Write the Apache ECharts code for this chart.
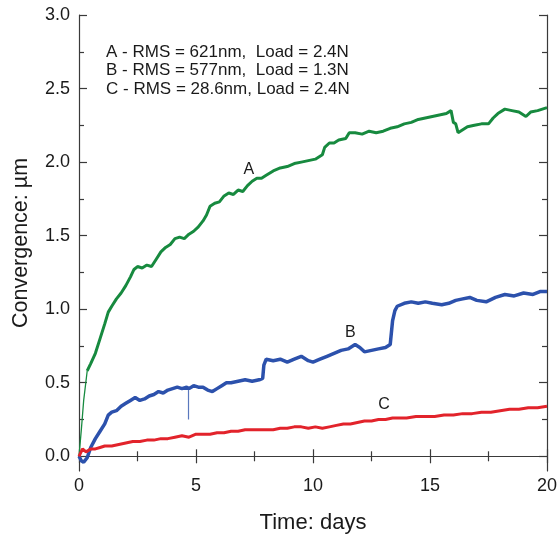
<!DOCTYPE html>
<html>
<head>
<meta charset="utf-8">
<script src="https://cdn.jsdelivr.net/npm/echarts@6/dist/echarts.min.js"></script>
<style>
  html, body { margin: 0; padding: 0; background: #fff; }
  #chart { width: 560px; height: 539px; }
</style>
</head>
<body>
<div id="chart"></div>
<script>
// curve A - green (first points: the thin fast rise)
let daysArise = [0, 0.1, 0.2, 0.35];
let valsArise = [0.00, 0.18, 0.38, 0.58];
let daysA = [0.35, 0.5, 0.7, 0.9, 1.1, 1.25, 1.4, 1.6, 1.8, 2.0, 2.2, 2.35, 2.5, 2.7, 2.9, 3.1, 3.3, 3.5, 3.7, 3.9, 4.1, 4.3, 4.5, 4.7, 4.9, 5.1, 5.3, 5.45, 5.6, 5.8, 6.0, 6.2, 6.4, 6.6, 6.8, 7.0, 7.2, 7.4, 7.6, 7.8, 8.0, 8.3, 8.6, 8.9, 9.2, 9.5, 9.8, 10.1, 10.4, 10.5, 10.7, 10.9, 11.1, 11.4, 11.55, 11.8, 12.1, 12.4, 12.7, 13.0, 13.3, 13.6, 13.9, 14.2, 14.5, 14.8, 15.1, 15.4, 15.7, 15.9, 16.0, 16.1, 16.2, 16.4, 16.6, 16.9, 17.2, 17.5, 17.7, 17.9, 18.2, 18.5, 18.8, 19.1, 19.3, 19.6, 20.0];
let valsA = [0.58, 0.63, 0.70, 0.80, 0.90, 0.98, 1.02, 1.07, 1.11, 1.16, 1.22, 1.27, 1.29, 1.28, 1.30, 1.29, 1.34, 1.39, 1.42, 1.44, 1.48, 1.49, 1.48, 1.51, 1.53, 1.56, 1.60, 1.64, 1.70, 1.72, 1.73, 1.77, 1.79, 1.78, 1.81, 1.80, 1.84, 1.87, 1.89, 1.89, 1.91, 1.94, 1.96, 1.97, 1.99, 2.00, 2.01, 2.02, 2.05, 2.10, 2.13, 2.13, 2.15, 2.16, 2.20, 2.20, 2.19, 2.21, 2.20, 2.21, 2.23, 2.24, 2.26, 2.27, 2.29, 2.30, 2.31, 2.32, 2.33, 2.35, 2.27, 2.26, 2.20, 2.22, 2.24, 2.25, 2.26, 2.26, 2.30, 2.33, 2.36, 2.35, 2.34, 2.31, 2.34, 2.35, 2.37];

// curve B - blue
let daysB = [0, 0.1, 0.2, 0.35, 0.5, 0.7, 0.9, 1.1, 1.25, 1.4, 1.6, 1.8, 2.0, 2.2, 2.4, 2.6, 2.8, 3.0, 3.2, 3.4, 3.6, 3.8, 4.0, 4.2, 4.4, 4.6, 4.7, 4.9, 5.1, 5.3, 5.5, 5.7, 5.9, 6.1, 6.3, 6.5, 6.8, 7.1, 7.4, 7.7, 7.85, 7.9, 8.0, 8.3, 8.6, 8.9, 9.2, 9.5, 9.8, 10.0, 10.3, 10.6, 10.9, 11.2, 11.5, 11.8, 12.0, 12.2, 12.5, 12.8, 13.1, 13.3, 13.4, 13.5, 13.6, 13.9, 14.2, 14.5, 14.8, 15.1, 15.5, 15.8, 16.1, 16.4, 16.7, 17.0, 17.4, 17.8, 18.2, 18.6, 19.0, 19.4, 19.7, 20.0];
let valsB = [0.00, -0.03, -0.04, -0.01, 0.06, 0.12, 0.17, 0.22, 0.28, 0.30, 0.31, 0.34, 0.36, 0.38, 0.40, 0.38, 0.39, 0.41, 0.42, 0.44, 0.43, 0.45, 0.46, 0.47, 0.46, 0.47, 0.46, 0.48, 0.47, 0.47, 0.45, 0.44, 0.46, 0.48, 0.50, 0.50, 0.51, 0.52, 0.51, 0.52, 0.53, 0.62, 0.66, 0.65, 0.66, 0.64, 0.66, 0.68, 0.65, 0.64, 0.66, 0.68, 0.70, 0.72, 0.73, 0.76, 0.74, 0.71, 0.72, 0.73, 0.74, 0.76, 0.92, 0.99, 1.02, 1.04, 1.05, 1.04, 1.05, 1.04, 1.03, 1.04, 1.06, 1.07, 1.08, 1.06, 1.05, 1.08, 1.10, 1.09, 1.11, 1.10, 1.12, 1.12];
// the single thin downward glitch on B
let daysBspike = [4.68, 4.68];
let valsBspike = [0.46, 0.25];

// curve C - red
let daysC = [0, 0.15, 0.3, 0.5, 0.7, 0.9, 1.1, 1.4, 1.7, 2.0, 2.3, 2.6, 2.9, 3.2, 3.5, 3.8, 4.1, 4.4, 4.7, 5.0, 5.3, 5.6, 5.9, 6.2, 6.5, 6.8, 7.1, 7.4, 7.7, 8.0, 8.3, 8.6, 8.9, 9.2, 9.5, 9.8, 10.1, 10.4, 10.7, 11.0, 11.3, 11.6, 11.9, 12.2, 12.5, 12.8, 13.1, 13.4, 13.7, 14.0, 14.4, 14.8, 15.2, 15.6, 16.0, 16.4, 16.8, 17.2, 17.6, 18.0, 18.4, 18.8, 19.2, 19.6, 20.0];
let valsC = [0.00, 0.05, 0.03, 0.05, 0.05, 0.06, 0.07, 0.07, 0.08, 0.09, 0.10, 0.10, 0.11, 0.11, 0.12, 0.12, 0.13, 0.14, 0.13, 0.15, 0.15, 0.15, 0.16, 0.16, 0.17, 0.17, 0.18, 0.18, 0.18, 0.18, 0.18, 0.19, 0.19, 0.20, 0.20, 0.19, 0.20, 0.19, 0.20, 0.21, 0.22, 0.22, 0.23, 0.24, 0.24, 0.25, 0.25, 0.26, 0.26, 0.26, 0.27, 0.27, 0.27, 0.28, 0.28, 0.29, 0.29, 0.30, 0.30, 0.31, 0.32, 0.32, 0.33, 0.33, 0.34];

let yMajor = [0, 0.5, 1.0, 1.5, 2.0, 2.5, 3.0];
let yMinor = [0.25, 0.75, 1.25, 1.75, 2.25, 2.75];
let legendLines = [
    'A - RMS = 621nm,  Load = 2.4N',
    'B - RMS = 577nm,  Load = 1.3N',
    'C - RMS = 28.6nm, Load = 2.4N'
];
let curveLabels = [
    {name: 'A', coord: [7.26, 1.95]},
    {name: 'B', coord: [11.6, 0.84]},
    {name: 'C', coord: [13.04, 0.35]}
];

function pairs(xs, ys) {
    return xs.map((x, i) => [x, ys[i]]);
}

let axisColor = '#3a3a3a';
let textColor = '#1a1a1a';
let font = 'Liberation Sans, Arial, sans-serif';

function yAxisDef(pos, ticks, len, main) {
    return {
        type: 'value', position: pos, min: -0.1, max: 3.0,
        axisLine: {show: main, lineStyle: {color: axisColor, width: 1.2}},
        axisTick: {show: true, inside: true, length: len, customValues: ticks, lineStyle: {color: axisColor, width: 1.2}},
        axisLabel: {show: main && pos === 'left', customValues: yMajor, margin: 9, fontSize: 18, color: textColor, fontFamily: font,
            formatter: v => v.toFixed(1)},
        splitLine: {show: false},
        name: main && pos === 'left' ? 'Convergence: µm' : '',
        nameLocation: 'middle', nameGap: 47, nameRotate: 90,
        nameTextStyle: {fontSize: 21.5, color: textColor, fontFamily: font}
    };
}

function xAxisDef(pos, main) {
    return {
        type: 'value', position: pos, min: 0, max: 20, interval: 5,
        axisLine: {show: true, lineStyle: {color: axisColor, width: 1.2}},
        axisTick: {show: true, inside: true, length: 7, lineStyle: {color: axisColor, width: 1.2}},
        minorTick: {show: true, splitNumber: 2, length: 5, lineStyle: {color: axisColor, width: 1.2}},
        axisLabel: {show: main, margin: 6, fontSize: 18, color: textColor, fontFamily: font},
        splitLine: {show: false},
        name: main ? 'Time: days' : '',
        nameLocation: 'middle', nameGap: 41,
        nameTextStyle: {fontSize: 22, color: textColor, fontFamily: font}
    };
}

function lineSeries(data, color, width, label) {
    let s = {
        type: 'line', data: data, showSymbol: false, symbol: 'none', silent: true,
        xAxisIndex: 0, yAxisIndex: 0,
        lineStyle: {color: color, width: width}
    };
    if (label) {
        s.markPoint = {
            symbol: 'circle', symbolSize: 1, silent: true,
            itemStyle: {color: 'rgba(0,0,0,0)'},
            label: {show: true, position: 'inside', formatter: label.name, fontSize: 16, color: textColor, fontFamily: font},
            data: [{coord: label.coord}]
        };
    }
    return s;
}

let chart = echarts.init(document.getElementById('chart'));
chart.setOption({
    animation: false,
    backgroundColor: '#fff',
    grid: {left: 79, right: 10, top: 15, bottom: 67},
    xAxis: [xAxisDef('bottom', true), xAxisDef('top', false)],
    yAxis: [
        yAxisDef('left', yMajor, 8, true),
        yAxisDef('left', yMinor, 5, false),
        yAxisDef('right', yMajor, 8, true),
        yAxisDef('right', yMinor, 5, false)
    ],
    graphic: [{
        type: 'text', left: 106, top: 43,
        style: {text: legendLines.join('\n'), fontSize: 17, lineHeight: 18.5, fill: textColor, fontFamily: font}
    }],
    series: [
        lineSeries(pairs(daysArise, valsArise), '#178a3f', 1.3),
        lineSeries(pairs(daysA, valsA), '#178a3f', 3, curveLabels[0]),
        lineSeries(pairs(daysBspike, valsBspike), '#5a78bd', 1.2),
        lineSeries(pairs(daysB, valsB), '#2c51ac', 3.5, curveLabels[1]),
        lineSeries(pairs(daysC, valsC), '#e2232b', 3, curveLabels[2])
    ]
});
</script>
</body>
</html>
